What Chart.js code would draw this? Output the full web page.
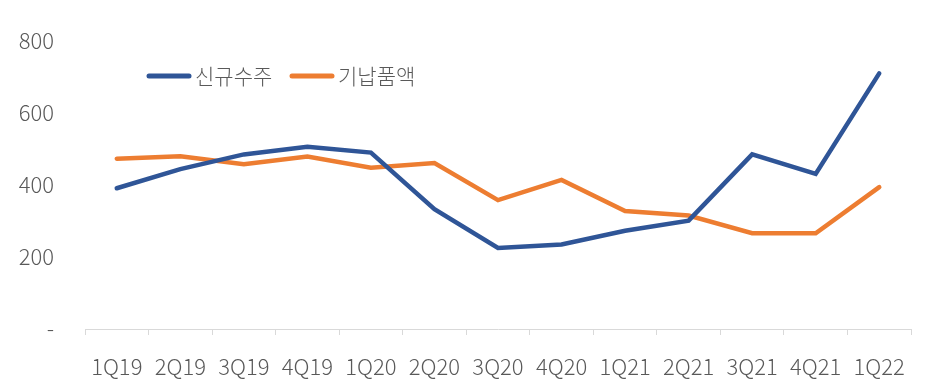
<!DOCTYPE html>
<html>
<head>
<meta charset="utf-8">
<script src="https://cdn.jsdelivr.net/npm/chart.js@4/dist/chart.umd.min.js"></script>
<style>
  html, body { margin: 0; padding: 0; background: #fff; }
  #wrap { width: 940px; height: 391px; position: relative; }
</style>
</head>
<body>
<div id="wrap"><canvas id="myChart" width="940" height="391"></canvas></div>
<script>
const quarters = ["1Q19", "2Q19", "3Q19", "4Q19", "1Q20", "2Q20", "3Q20", "4Q20", "1Q21", "2Q21", "3Q21", "4Q21", "1Q22"];
const newOrders = [391, 444, 485, 506, 490, 333, 225, 235, 273, 301, 485, 431, 710];
const deliveries = [473, 480, 458, 479, 448, 461, 358, 414, 328, 315, 266, 266, 394];
const yTicks = [0, 200, 400, 600, 800];

const fontFamily = "'Noto Sans CJK KR', 'Noto Sans', sans-serif";
const textColor = "#595959";

// legend drawn inside the plot, like the original
const inlineLegend = {
  id: "inlineLegend",
  afterDraw(chart) {
    const ctx = chart.ctx;
    ctx.save();
    ctx.lineCap = "round";
    ctx.lineWidth = 5;
    ctx.font = "300 21px " + fontFamily;
    ctx.textBaseline = "middle";
    const items = [
      { x: 149, text: "신규수주", color: "#2f5597" },
      { x: 292, text: "기납품액", color: "#ed7d31" }
    ];
    items.forEach(it => {
      ctx.strokeStyle = it.color;
      ctx.beginPath();
      ctx.moveTo(it.x, 76);
      ctx.lineTo(it.x + 40, 76);
      ctx.stroke();
      ctx.fillStyle = textColor;
      ctx.fillText(it.text, it.x + 46, 76);
    });
    ctx.restore();
  }
};

const ctx = document.getElementById("myChart").getContext("2d");
new Chart(ctx, {
  type: "line",
  data: {
    labels: quarters,
    datasets: [
      {
        label: "신규수주",
        data: newOrders,
        borderColor: "#2f5597",
        borderWidth: 4.5,
        pointRadius: 0,
        borderCapStyle: "round",
        tension: 0
      },
      {
        label: "기납품액",
        data: deliveries,
        borderColor: "#ed7d31",
        borderWidth: 4.5,
        pointRadius: 0,
        borderCapStyle: "round",
        tension: 0
      }
    ]
  },
  options: {
    responsive: false,
    animation: false,
    layout: { padding: { top: 41, right: 29, bottom: 0, left: 0 } },
    plugins: {
      legend: { display: false },
      tooltip: { enabled: false }
    },
    scales: {
      x: {
        offset: true,
        grid: {
          offset: true,
          drawOnChartArea: false,
          drawTicks: true,
          tickLength: 6,
          color: "#d9d9d9"
        },
        border: { display: true, color: "#d9d9d9" },
        ticks: {
          color: textColor,
          font: { family: fontFamily, size: 22, weight: "300" },
          padding: 18,
          maxRotation: 0,
          autoSkip: false
        },
        afterFit: s => { s.height = 62; }
      },
      y: {
        min: 0,
        max: 800,
        afterBuildTicks: s => { s.ticks = yTicks.map(v => ({ value: v })); },
        grid: { display: false, drawTicks: false },
        border: { display: false },
        ticks: {
          color: textColor,
          font: { family: fontFamily, size: 22, weight: "300" },
          padding: 31,
          callback: v => (v === 0 ? "-" : v)
        },
        afterFit: s => {
          s.width = 85;
          // tick padding would otherwise push the plot top down
          s.paddingTop = 13;
          s.paddingBottom = 13;
        }
      }
    }
  },
  plugins: [inlineLegend]
});
</script>
</body>
</html>
